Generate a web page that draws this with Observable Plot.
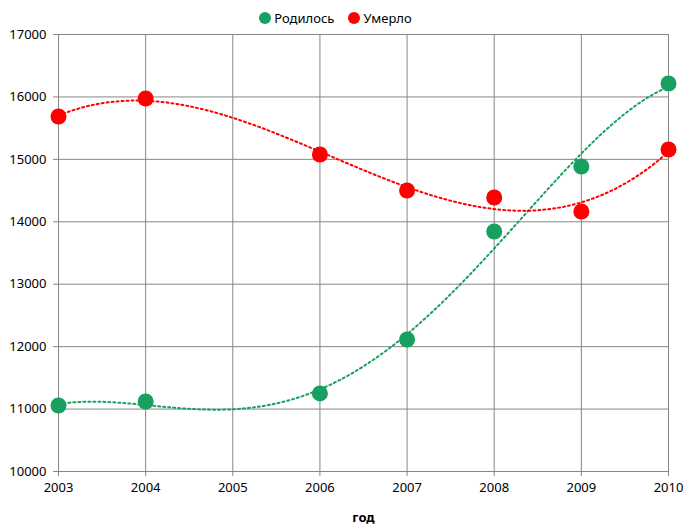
<!DOCTYPE html>
<html>
<head>
<meta charset="utf-8">
<script src="https://cdn.jsdelivr.net/npm/d3@7"></script>
<script src="https://cdn.jsdelivr.net/npm/@observablehq/plot@0.6"></script>
<style>
  body { margin: 0; background: #fff; font-family: "Noto Sans", sans-serif; }
  #legend { height: 26px; display: flex; justify-content: center; align-items: flex-end; gap: 14px; font-size: 13px; color: #000; padding-right: 16px; }
  .item { display: flex; align-items: center; gap: 3px; line-height: 16px; }
  .dot { width: 12px; height: 12px; border-radius: 50%; display: inline-block; }
  svg { display: block; }
</style>
</head>
<body>
<div id="legend"></div>
<div id="chart"></div>
<script>
const years = [2003, 2004, 2006, 2007, 2008, 2009, 2010];
const born = [11057, 11121, 11250, 12114, 13844, 14886, 16215];
const died = [15687, 15975, 15078, 14501, 14389, 14165, 15158];
const seriesNames = ["Родилось", "Умерло"];
const seriesColors = ["#17a060", "#ff0000"];
const trendDegree = [4, 3];
const xTicks = [2003, 2004, 2005, 2006, 2007, 2008, 2009, 2010];
const yTicks = [10000, 11000, 12000, 13000, 14000, 15000, 16000, 17000];

// legend
const legend = document.getElementById("legend");
seriesNames.forEach((n, i) => {
  const it = document.createElement("span");
  it.className = "item";
  it.innerHTML = `<span class="dot" style="background:${seriesColors[i]}"></span>${n}`;
  legend.appendChild(it);
});

// polynomial least-squares trend computed from the data
function polyFit(xs, ys, deg) {
  const n = deg + 1;
  const A = Array.from({length: n}, () => Array(n + 1).fill(0));
  xs.forEach((x0, k) => {
    const x = x0 - 2003;
    for (let i = 0; i < n; i++) {
      for (let j = 0; j < n; j++) A[i][j] += Math.pow(x, i + j);
      A[i][n] += ys[k] * Math.pow(x, i);
    }
  });
  for (let c = 0; c < n; c++) {
    let p = c;
    for (let r = c + 1; r < n; r++) if (Math.abs(A[r][c]) > Math.abs(A[p][c])) p = r;
    [A[c], A[p]] = [A[p], A[c]];
    for (let r = 0; r < n; r++) {
      if (r === c) continue;
      const f = A[r][c] / A[c][c];
      for (let k = c; k <= n; k++) A[r][k] -= f * A[c][k];
    }
  }
  const coef = A.map((row, i) => row[n] / row[i]);
  return x => coef.reduce((s, a, i) => s + a * Math.pow(x - 2003, i), 0);
}

const points = [];
years.forEach((y, i) => {
  points.push({year: y, value: born[i], s: seriesNames[0]});
  points.push({year: y, value: died[i], s: seriesNames[1]});
});

const trend = [];
[born, died].forEach((vals, si) => {
  const f = polyFit(years, vals, trendDegree[si]);
  for (let x = 2003; x <= 2010.0001; x += 0.05) trend.push({year: x, value: f(x), s: seriesNames[si]});
});

const chart = Plot.plot({
  width: 687,
  height: 502,
  marginTop: 8,
  marginBottom: 57,
  marginLeft: 58,
  marginRight: 19,
  style: {fontFamily: "Noto Sans, sans-serif", fontSize: "13px", color: "#000", background: "#fff"},
  x: {domain: [2003, 2010], label: null},
  y: {domain: [10000, 17000], label: null},
  color: {domain: seriesNames, range: seriesColors},
  marks: [
    Plot.gridX(xTicks, {stroke: "#878787", strokeOpacity: 1, strokeWidth: 1}),
    Plot.gridY(yTicks, {stroke: "#878787", strokeOpacity: 1, strokeWidth: 1}),
    Plot.axisX({ticks: xTicks, tickFormat: d => String(d), tickSize: 5, tickPadding: 6, stroke: "#878787", label: null}),
    Plot.axisY({ticks: yTicks, tickFormat: d => String(d), tickSize: 5, tickPadding: 7, stroke: "#878787", label: null}),
    Plot.text(["год"], {frameAnchor: "bottom", dy: 50, fontWeight: "bold", fontSize: 13}),
    Plot.line(trend, {x: "year", y: "value", z: "s", stroke: "s", strokeWidth: 2, strokeDasharray: "2,3", curve: "linear"}),
    Plot.dot(points, {x: "year", y: "value", fill: "s", r: 8, stroke: null})
  ]
});
document.getElementById("chart").appendChild(chart);
</script>
</body>
</html>
